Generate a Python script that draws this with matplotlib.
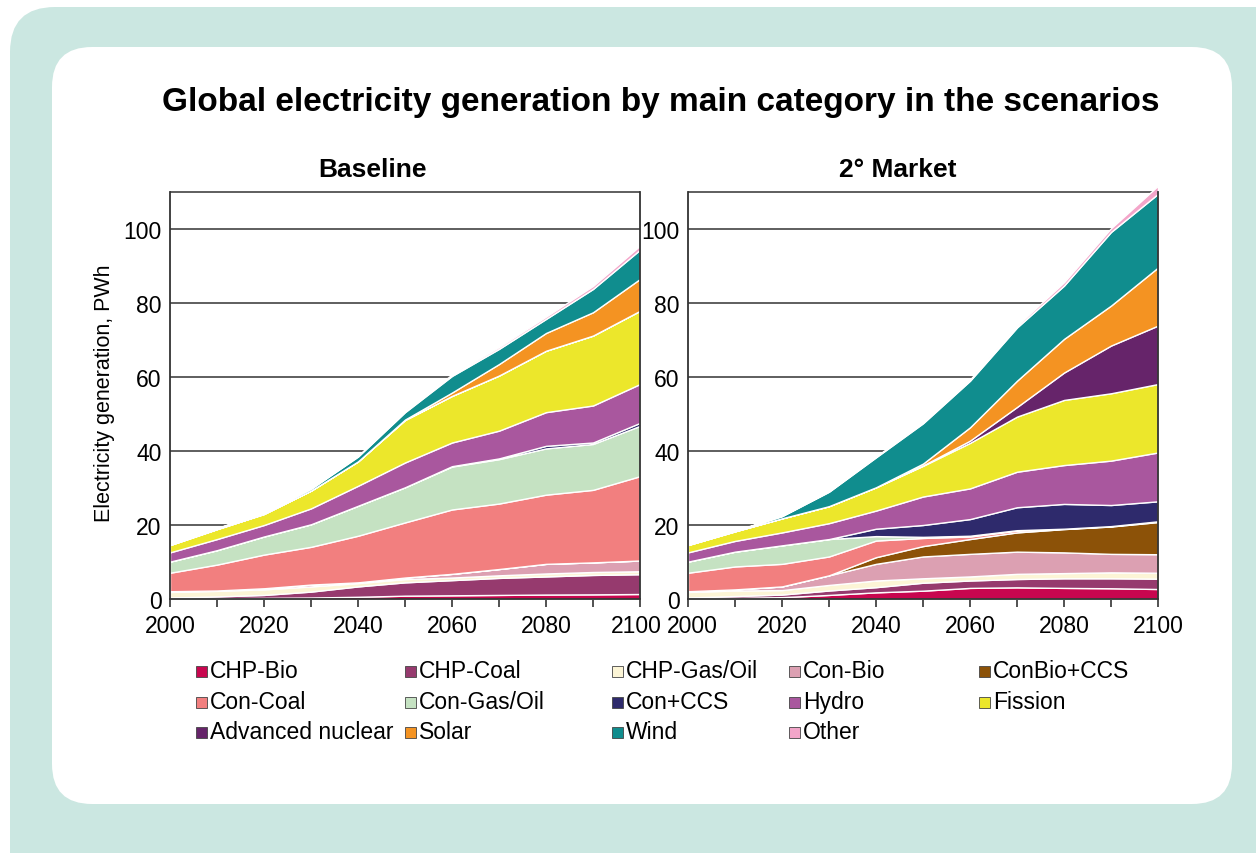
import numpy as np
import matplotlib.pyplot as plt
import matplotlib.transforms as mtransforms
from matplotlib.patches import FancyBboxPatch, Rectangle

plt.rcParams['font.family'] = ['Liberation Sans', 'DejaVu Sans']

years = np.arange(2000, 2101, 10)

categories = ['CHP-Bio', 'CHP-Coal', 'CHP-Gas/Oil', 'Con-Bio', 'ConBio+CCS',
              'Con-Coal', 'Con-Gas/Oil', 'Con+CCS', 'Hydro', 'Fission',
              'Advanced nuclear', 'Solar', 'Wind', 'Other']
colors = ['#c8064f', '#963a6e', '#fcf5d6', '#dca0b2', '#8c5208',
          '#f27f7f', '#c5e2c2', '#2e2a6c', '#a9579e', '#ece72b',
          '#66246a', '#f49322', '#108d8e', '#f3a5c9']

# Baseline scenario, PWh per decade 2000-2100
bl_chp_bio = [0.1, 0.2, 0.3, 0.4, 0.6, 0.9, 1.0, 1.1, 1.2, 1.25, 1.35]
bl_chp_coal = [0.3, 0.5, 0.8, 1.6, 2.8, 3.6, 4.1, 4.6, 4.9, 5.25, 5.35]
bl_chp_gas = [1.5, 1.5, 1.5, 1.4, 0.9, 0.9, 0.7, 0.7, 0.8, 0.8, 0.8]
bl_con_bio = [0.2, 0.1, 0.3, 0.5, 0.2, 0.4, 1.0, 1.7, 2.6, 2.6, 2.9]
bl_conbio_ccs = [0, 0, 0, 0, 0, 0, 0, 0, 0, 0, 0]
bl_con_coal = [5.0, 7.0, 9.1, 10.2, 12.6, 14.9, 17.4, 17.7, 18.7, 19.6, 22.8]
bl_con_gas = [3.0, 3.9, 4.9, 6.1, 8.1, 9.5, 11.6, 12.0, 12.5, 12.4, 13.6]
bl_con_ccs = [0, 0, 0, 0, 0, 0, 0.1, 0.2, 0.7, 0.4, 0.8]
bl_hydro = [2.5, 3.0, 3.1, 4.3, 5.4, 6.7, 6.4, 7.5, 9.1, 10.0, 10.5]
bl_fission = [2.0, 2.7, 3.0, 4.8, 6.6, 11.5, 12.6, 14.9, 16.6, 18.9, 19.8]
bl_adv_nuclear = [0, 0, 0, 0, 0, 0, 0, 0, 0, 0, 0]
bl_solar = [0, 0, 0, 0, 0, 0.1, 0.9, 3.1, 4.8, 6.3, 8.6]
bl_wind = [0.1, 0.2, 0.3, 0.5, 1.3, 2.0, 4.5, 4.1, 3.8, 6.3, 7.9]
bl_other = [0.05, 0.1, 0.1, 0.15, 0.2, 0.3, 0.4, 0.5, 0.6, 0.8, 1.1]

# 2 degree market scenario
mk_chp_bio = [0.1, 0.3, 0.5, 1.1, 1.8, 2.25, 3.0, 3.15, 3.0, 2.9, 2.7]
mk_chp_coal = [0.3, 0.5, 0.7, 1.2, 1.4, 2.15, 2.0, 2.25, 2.6, 2.7, 2.8]
mk_chp_gas = [1.5, 1.5, 1.2, 1.5, 1.8, 1.2, 1.1, 1.4, 1.4, 1.6, 1.6]
mk_con_bio = [0.2, 0.3, 1.0, 2.6, 4.5, 5.9, 6.1, 6.0, 5.6, 5.0, 5.0]
mk_conbio_ccs = [0, 0, 0, 0, 1.8, 2.8, 4.0, 5.2, 6.3, 7.4, 8.7]
mk_con_coal = [5.0, 6.2, 6.1, 5.1, 4.5, 2.2, 0.7, 0.5, 0.1, 0.1, 0.2]
mk_con_gas = [3.0, 4.0, 5.0, 4.7, 1.2, 0.3, 0.2, 0.1, 0, 0, 0]
mk_con_ccs = [0, 0, 0, 0, 2.0, 3.2, 4.5, 6.2, 6.7, 5.7, 5.4]
mk_hydro = [2.5, 2.9, 3.5, 4.3, 4.9, 7.7, 8.3, 9.6, 10.5, 12.0, 13.2]
mk_fission = [2.0, 2.6, 3.8, 4.6, 6.3, 8.3, 12.3, 14.9, 17.6, 18.2, 18.5]
mk_adv_nuclear = [0, 0, 0, 0, 0, 0.1, 0.6, 2.6, 7.4, 12.9, 15.8]
mk_solar = [0, 0, 0, 0, 0, 0.5, 3.6, 7.1, 9.1, 10.8, 15.7]
mk_wind = [0.1, 0.1, 0.6, 3.9, 8.1, 10.9, 12.6, 14.4, 14.4, 19.9, 19.9]
mk_other = [0.05, 0.1, 0.1, 0.15, 0.2, 0.3, 0.3, 0.5, 0.9, 1.0, 2.2]

baseline = [bl_chp_bio, bl_chp_coal, bl_chp_gas, bl_con_bio, bl_conbio_ccs,
            bl_con_coal, bl_con_gas, bl_con_ccs, bl_hydro, bl_fission,
            bl_adv_nuclear, bl_solar, bl_wind, bl_other]
market = [mk_chp_bio, mk_chp_coal, mk_chp_gas, mk_con_bio, mk_conbio_ccs,
          mk_con_coal, mk_con_gas, mk_con_ccs, mk_hydro, mk_fission,
          mk_adv_nuclear, mk_solar, mk_wind, mk_other]

W, H = 1256, 854
fig = plt.figure(figsize=(W / 100, H / 100), dpi=100)
fig.patch.set_facecolor('white')

# background card
fig.patches.append(FancyBboxPatch((0.10, -0.6), 13.0, 9.06,
                                  boxstyle='round,pad=0,rounding_size=0.45',
                                  transform=fig.dpi_scale_trans,
                                  facecolor='#cbe7e1', edgecolor='none', zorder=-3))
fig.patches.append(FancyBboxPatch((0.52, 0.49), 11.80, 7.57,
                                  boxstyle='round,pad=0,rounding_size=0.4',
                                  transform=fig.dpi_scale_trans,
                                  facecolor='white', edgecolor='none', zorder=-2))


def px(x, y):
    return x / W, 1 - y / H


fig.text(*px(661, 103), 'Global electricity generation by main category in the scenarios',
         ha='center', va='center', fontsize=24, fontweight='bold')

ymax = 112
ax_h = ymax * 3.7 / H
axes = [fig.add_axes([170 / W, 254 / H, 470 / W, ax_h]),
        fig.add_axes([688 / W, 254 / H, 470 / W, ax_h])]
titles = ['Baseline', '2° Market']
title_x = [372, 898]

for ax, data, title, tx in zip(axes, [baseline, market], titles, title_x):
    ax.set_facecolor('none')
    for g in [20, 40, 60, 80, 100, 110]:
        ax.axhline(g, color='#333333', lw=1.1, zorder=0)
    ax.stackplot(years, data, colors=colors, edgecolor='white', linewidth=1.0, zorder=2)
    ax.set_xlim(2000, 2100)
    ax.set_ylim(0, ymax)
    ax.spines['top'].set_visible(False)
    for s in ['left', 'right', 'bottom']:
        ax.spines[s].set_color('#333333')
        ax.spines[s].set_linewidth(1.3)
        ax.spines[s].set_zorder(3)
    ax.spines['left'].set_bounds(0, 110)
    ax.spines['right'].set_bounds(0, 110)
    ax.set_xticks(years)
    ax.set_xticklabels([str(y) if y % 20 == 0 else '' for y in years])
    ax.set_yticks([0, 20, 40, 60, 80, 100])
    ax.tick_params(axis='x', direction='out', length=6, width=1.2, color='#333333',
                   labelsize=16.5, pad=5)
    ax.tick_params(axis='y', length=0, labelsize=16.5, pad=6)
    fig.text(*px(tx, 170), title, ha='center', va='center', fontsize=19, fontweight='bold')

# the two panels meet at 2100 / 2000, push those labels apart a little
labels_left = axes[0].get_xticklabels()
labels_right = axes[1].get_xticklabels()
labels_left[-1].set_transform(labels_left[-1].get_transform() +
                              mtransforms.ScaledTranslation(-4 / 100, 0, fig.dpi_scale_trans))
labels_right[0].set_transform(labels_right[0].get_transform() +
                              mtransforms.ScaledTranslation(4 / 100, 0, fig.dpi_scale_trans))

axes[0].set_ylabel('Electricity generation, PWh', fontsize=15.5, labelpad=6)

# legend grid
col_x = [196, 405, 612, 789, 979]
row_y = [672, 703, 733]
for i, (lab, col) in enumerate(zip(categories, colors)):
    r, c = divmod(i, 5)
    x0, y0 = col_x[c], row_y[r]
    fig.patches.append(Rectangle(px(x0, y0 + 5.5), 11 / W, 11 / H,
                                 transform=fig.transFigure, facecolor=col,
                                 edgecolor='#444444', linewidth=0.6))
    fig.text(*px(x0 + 14, y0), lab, ha='left', va='center', fontsize=16.5)

fig.savefig('out.png', dpi=100, facecolor=fig.get_facecolor())
